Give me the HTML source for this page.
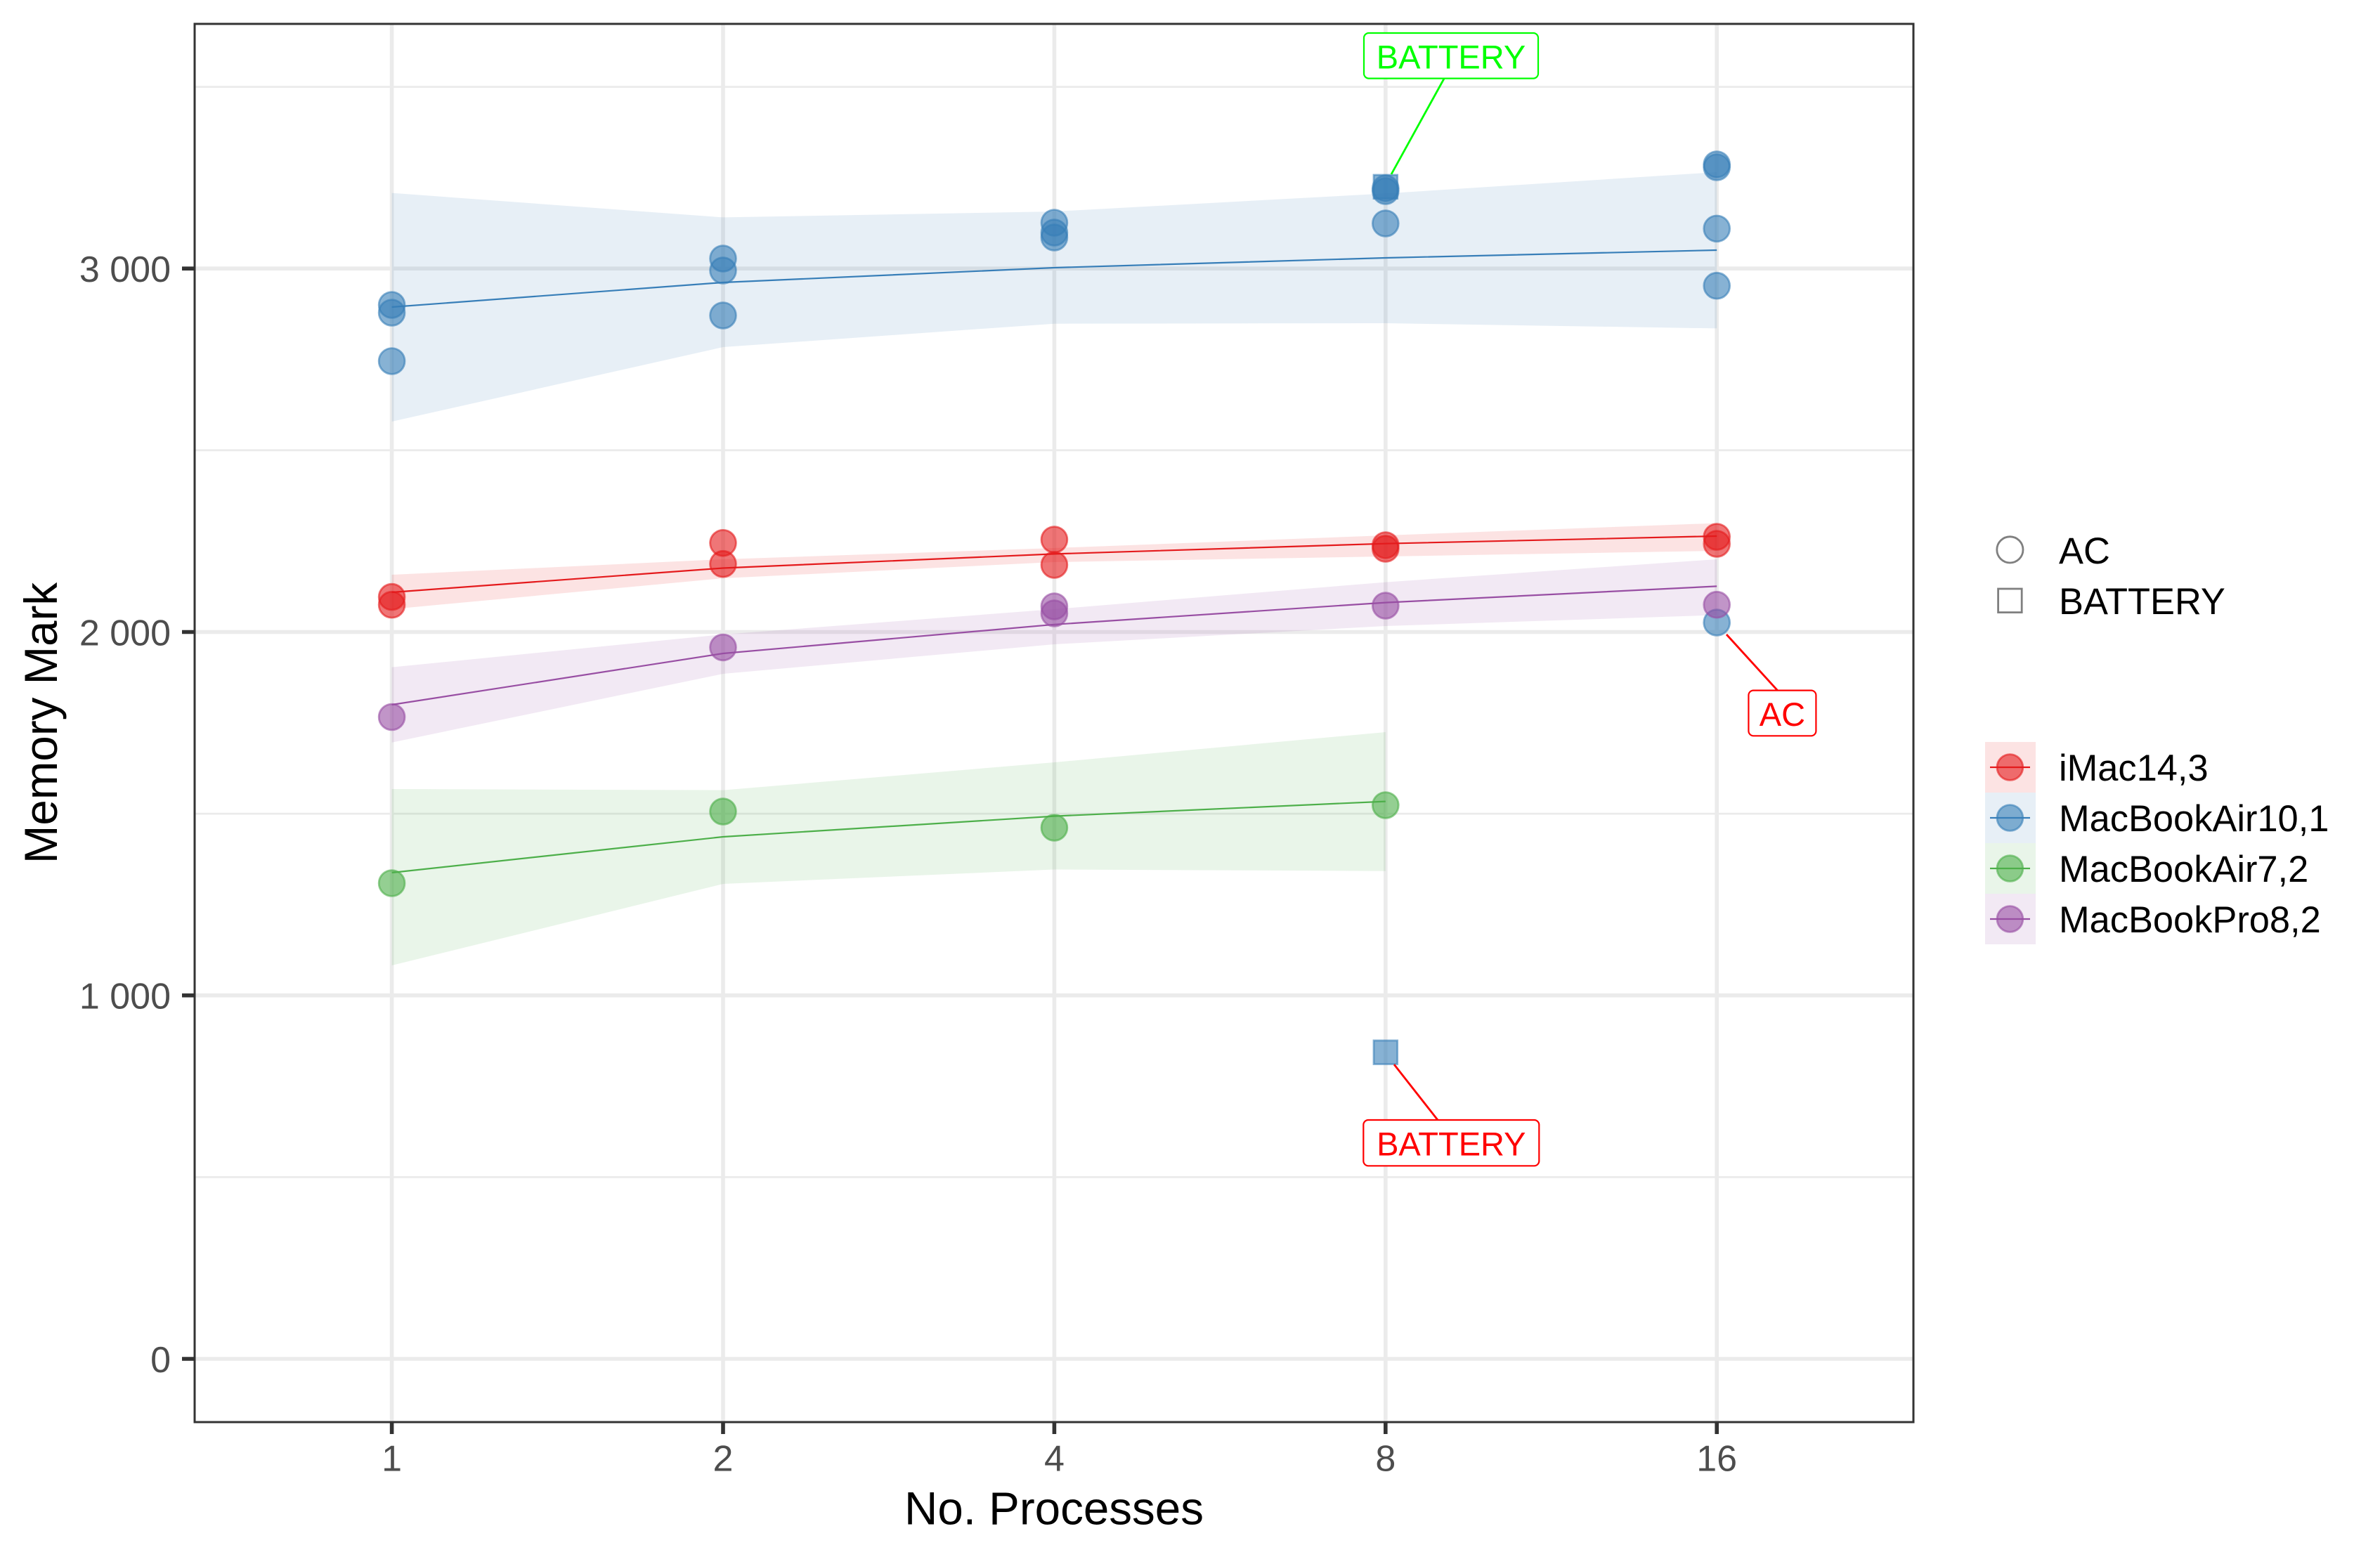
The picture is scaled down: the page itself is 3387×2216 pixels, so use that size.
<!DOCTYPE html>
<html>
<head>
<meta charset="utf-8">
<style>
html,body{margin:0;padding:0;background:#ffffff;}
svg{display:block;}
text{font-family:"Liberation Sans","DejaVu Sans",sans-serif;}
</style>
</head>
<body>
<svg width="3387" height="2216" viewBox="0 0 3387 2216" xmlns="http://www.w3.org/2000/svg">
<rect x="0" y="0" width="3387" height="2216" fill="#ffffff"/>
<defs>
<clipPath id="panel"><rect x="277" y="34" width="2446" height="1990"/></clipPath>
</defs>

<g clip-path="url(#panel)">
  <!-- minor grid -->
  <g stroke="#EBEBEB" stroke-width="2.8">
    <line x1="277" y1="1675.4" x2="2723" y2="1675.4"/>
    <line x1="277" y1="1158.1" x2="2723" y2="1158.1"/>
    <line x1="277" y1="640.8" x2="2723" y2="640.8"/>
    <line x1="277" y1="123.6" x2="2723" y2="123.6"/>
  </g>
  <!-- major grid -->
  <g stroke="#EBEBEB" stroke-width="5.6">
    <line x1="277" y1="1934" x2="2723" y2="1934"/>
    <line x1="277" y1="1416.7" x2="2723" y2="1416.7"/>
    <line x1="277" y1="899.5" x2="2723" y2="899.5"/>
    <line x1="277" y1="382.2" x2="2723" y2="382.2"/>
    <line x1="557.6" y1="34" x2="557.6" y2="2024"/>
    <line x1="1029" y1="34" x2="1029" y2="2024"/>
    <line x1="1500.4" y1="34" x2="1500.4" y2="2024"/>
    <line x1="1971.8" y1="34" x2="1971.8" y2="2024"/>
    <line x1="2443.2" y1="34" x2="2443.2" y2="2024"/>
  </g>

  <!-- points -->
  <g stroke-width="2.8" fill-opacity="0.6" stroke-opacity="0.6">
    <!-- MacBookAir10,1 blue -->
    <g fill="#377EB8" stroke="#377EB8">
      <rect x="1955" y="249" width="33.6" height="33.6"/>
      <rect x="1955" y="1480.9" width="33.6" height="33.6"/>
      <circle cx="557.6" cy="434" r="18.4"/>
      <circle cx="557.6" cy="445" r="18.4"/>
      <circle cx="557.6" cy="514" r="18.4"/>
      <circle cx="1029" cy="368" r="18.4"/>
      <circle cx="1029" cy="385" r="18.4"/>
      <circle cx="1029" cy="449" r="18.4"/>
      <circle cx="1500.4" cy="317" r="18.4"/>
      <circle cx="1500.4" cy="331" r="18.4"/>
      <circle cx="1500.4" cy="338" r="18.4"/>
      <circle cx="1971.8" cy="268" r="18.4"/>
      <circle cx="1971.8" cy="272" r="18.4"/>
      <circle cx="1971.8" cy="318" r="18.4"/>
      <circle cx="2443.2" cy="234" r="18.4"/>
      <circle cx="2443.2" cy="238" r="18.4"/>
      <circle cx="2443.2" cy="325.4" r="18.4"/>
      <circle cx="2443.2" cy="406.7" r="18.4"/>
      <circle cx="2443.2" cy="886" r="18.4"/>
    </g>
    <!-- iMac14,3 red -->
    <g fill="#E41A1C" stroke="#E41A1C">
      <circle cx="557.6" cy="849.6" r="18.4"/>
      <circle cx="557.6" cy="860.7" r="18.4"/>
      <circle cx="1029" cy="772.8" r="18.4"/>
      <circle cx="1029" cy="802.7" r="18.4"/>
      <circle cx="1500.4" cy="768" r="18.4"/>
      <circle cx="1500.4" cy="804" r="18.4"/>
      <circle cx="1971.8" cy="776" r="18.4"/>
      <circle cx="1971.8" cy="781" r="18.4"/>
      <circle cx="2443.2" cy="764" r="18.4"/>
      <circle cx="2443.2" cy="774" r="18.4"/>
    </g>
    <!-- MacBookPro8,2 purple -->
    <g fill="#984EA3" stroke="#984EA3">
      <circle cx="557.6" cy="1020.5" r="18.4"/>
      <circle cx="1029" cy="921.4" r="18.4"/>
      <circle cx="1500.4" cy="863" r="18.4"/>
      <circle cx="1500.4" cy="873" r="18.4"/>
      <circle cx="1971.8" cy="862" r="18.4"/>
      <circle cx="2443.2" cy="860.7" r="18.4"/>
    </g>
    <!-- MacBookAir7,2 green -->
    <g fill="#4DAF4A" stroke="#4DAF4A">
      <circle cx="557.6" cy="1257" r="18.4"/>
      <circle cx="1029" cy="1155" r="18.4"/>
      <circle cx="1500.4" cy="1178" r="18.4"/>
      <circle cx="1971.8" cy="1146" r="18.4"/>
    </g>
  </g>

  <!-- ribbons -->
  <g fill-opacity="0.12" stroke="none">
    <polygon fill="#377EB8" points="557.6,274.6 1029,309.4 1500.4,301 1971.8,275.4 2443.2,245 2443.2,467.4 1971.8,460 1500.4,460.7 1029,494 557.6,600"/>
    <polygon fill="#E41A1C" points="557.6,818 1029,796 1500.4,780 1971.8,762 2443.2,744.6 2443.2,784 1971.8,792 1500.4,800 1029,823 557.6,867"/>
    <polygon fill="#984EA3" points="557.6,949.6 1029,903 1500.4,867 1971.8,828.6 2443.2,796 2443.2,875.4 1971.8,891 1500.4,917 1029,959 557.6,1056.7"/>
    <polygon fill="#4DAF4A" points="557.6,1123 1029,1124.6 1500.4,1085 1971.8,1042 1971.8,1239.7 1500.4,1237.5 1029,1258 557.6,1374"/>
  </g>

  <!-- fitted lines -->
  <g fill="none" stroke-width="2.2">
    <polyline stroke="#377EB8" points="557.6,437 1029,402 1500.4,381 1971.8,367 2443.2,356"/>
    <polyline stroke="#E41A1C" points="557.6,843 1029,808.5 1500.4,788.4 1971.8,773.7 2443.2,763"/>
    <polyline stroke="#984EA3" points="557.6,1003 1029,930 1500.4,888.8 1971.8,857.6 2443.2,834.4"/>
    <polyline stroke="#4DAF4A" points="557.6,1242 1029,1191 1500.4,1161.6 1971.8,1140.6"/>
  </g>

  <!-- label segments -->
  <line x1="1980" y1="248" x2="2055" y2="112" stroke="#00FF00" stroke-width="2.8"/>
  <line x1="1984" y1="1515" x2="2046" y2="1594" stroke="#FF0000" stroke-width="2.8"/>
  <line x1="2457" y1="903" x2="2529.5" y2="982.6" stroke="#FF0000" stroke-width="2.8"/>

  <!-- labels -->
  <rect x="1941" y="47" width="248" height="64.6" rx="7" ry="7" fill="#ffffff" stroke="#00FF00" stroke-width="2.2"/>
  <text x="2065" y="97.3" font-size="47" fill="#00FF00" text-anchor="middle">BATTERY</text>
  <rect x="1940.3" y="1594" width="250" height="65.3" rx="7" ry="7" fill="#ffffff" stroke="#FF0000" stroke-width="2.2"/>
  <text x="2065.3" y="1644.3" font-size="47" fill="#FF0000" text-anchor="middle">BATTERY</text>
  <rect x="2488.4" y="982.6" width="96" height="64.7" rx="7" ry="7" fill="#ffffff" stroke="#FF0000" stroke-width="2.2"/>
  <text x="2536.4" y="1033" font-size="47" fill="#FF0000" text-anchor="middle">AC</text>
</g>

<!-- panel border -->
<rect x="277" y="34" width="2446" height="1990" fill="none" stroke="#333333" stroke-width="3"/>

<!-- ticks -->
<g stroke="#333333" stroke-width="5.6">
  <line x1="259" y1="1934" x2="277" y2="1934"/>
  <line x1="259" y1="1416.7" x2="277" y2="1416.7"/>
  <line x1="259" y1="899.5" x2="277" y2="899.5"/>
  <line x1="259" y1="382.2" x2="277" y2="382.2"/>
  <line x1="557.6" y1="2024" x2="557.6" y2="2041"/>
  <line x1="1029" y1="2024" x2="1029" y2="2041"/>
  <line x1="1500.4" y1="2024" x2="1500.4" y2="2041"/>
  <line x1="1971.8" y1="2024" x2="1971.8" y2="2041"/>
  <line x1="2443.2" y1="2024" x2="2443.2" y2="2041"/>
</g>

<!-- y tick labels -->
<g font-size="52" fill="#4D4D4D" text-anchor="end">
  <text x="243" y="1953">0</text>
  <text x="243" y="1435.7">1 000</text>
  <text x="243" y="918.5">2 000</text>
  <text x="243" y="401.2">3 000</text>
</g>
<!-- x tick labels -->
<g font-size="52" fill="#4D4D4D" text-anchor="middle">
  <text x="557.6" y="2093.5">1</text>
  <text x="1029" y="2093.5">2</text>
  <text x="1500.4" y="2093.5">4</text>
  <text x="1971.8" y="2093.5">8</text>
  <text x="2443.2" y="2093.5">16</text>
</g>

<!-- axis titles -->
<text x="1500" y="2169.5" font-size="65.5" fill="#000000" text-anchor="middle">No. Processes</text>
<text transform="translate(81,1029) rotate(-90)" x="0" y="0" font-size="65.5" fill="#000000" text-anchor="middle">Memory Mark</text>

<!-- legend: shape -->
<circle cx="2860.4" cy="782.4" r="18.6" fill="none" stroke="#808080" stroke-width="2.8"/>
<rect x="2843.6" y="838" width="33.6" height="33.6" fill="none" stroke="#808080" stroke-width="2.8"/>
<g font-size="52.4" fill="#000000">
  <text x="2930" y="802">AC</text>
  <text x="2930" y="874">BATTERY</text>
</g>

<!-- legend: colour -->
<g fill-opacity="0.12">
  <rect x="2825" y="1056" width="72" height="72" fill="#E41A1C"/>
  <rect x="2825" y="1128" width="72" height="72" fill="#377EB8"/>
  <rect x="2825" y="1200" width="72" height="72" fill="#4DAF4A"/>
  <rect x="2825" y="1272" width="72" height="72" fill="#984EA3"/>
</g>
<g stroke-width="2.8" fill-opacity="0.6" stroke-opacity="0.6">
  <circle cx="2860.4" cy="1092" r="18.4" fill="#E41A1C" stroke="#E41A1C"/>
  <circle cx="2860.4" cy="1164" r="18.4" fill="#377EB8" stroke="#377EB8"/>
  <circle cx="2860.4" cy="1236" r="18.4" fill="#4DAF4A" stroke="#4DAF4A"/>
  <circle cx="2860.4" cy="1308" r="18.4" fill="#984EA3" stroke="#984EA3"/>
</g>
<g stroke-width="2.2">
  <line x1="2832" y1="1092" x2="2889" y2="1092" stroke="#E41A1C"/>
  <line x1="2832" y1="1164" x2="2889" y2="1164" stroke="#377EB8"/>
  <line x1="2832" y1="1236" x2="2889" y2="1236" stroke="#4DAF4A"/>
  <line x1="2832" y1="1308" x2="2889" y2="1308" stroke="#984EA3"/>
</g>
<g font-size="52.4" fill="#000000">
  <text x="2930" y="1111">iMac14,3</text>
  <text x="2930" y="1183">MacBookAir10,1</text>
  <text x="2930" y="1255">MacBookAir7,2</text>
  <text x="2930" y="1327">MacBookPro8,2</text>
</g>
</svg>
</body>
</html>
